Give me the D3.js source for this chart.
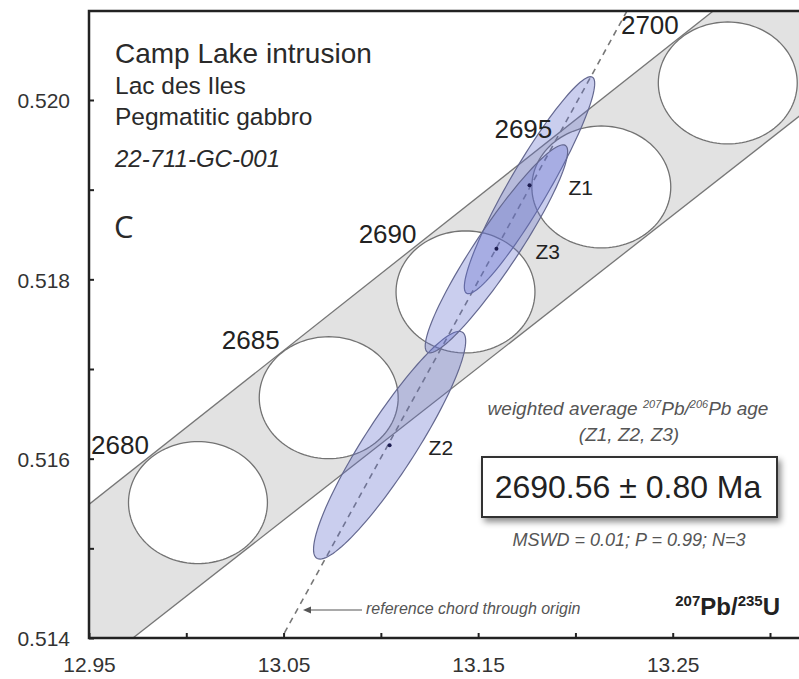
<!DOCTYPE html>
<html>
<head>
<meta charset="utf-8">
<script src="https://cdn.jsdelivr.net/npm/d3@7"></script>
<style>
  body { margin: 0; background: #fff; }
  svg { display: block; font-family: "Liberation Sans", Arial, sans-serif; }
</style>
</head>
<body>
<svg id="chart" width="799" height="679"></svg>
<script>
// axis ticks
var xTicks = [12.95, 13.00, 13.05, 13.10, 13.15, 13.20, 13.25, 13.30];
var xTickLabels = ["12.95", "", "13.05", "", "13.15", "", "13.25", ""];
var yTicks = [0.514, 0.515, 0.516, 0.517, 0.518, 0.519, 0.520];
var yTickLabels = ["0.514", "", "0.516", "", "0.518", "", "0.520"];

// concordia age marks (Ma) with decay constant error ellipses
var concordiaAges = [2680, 2685, 2690, 2695, 2700];
var concordiaX = [13.0060, 13.0732, 13.1435, 13.2133, 13.2783];
var concordiaY = [0.51551, 0.51668, 0.51786, 0.51903, 0.52019];
var concordiaErrX = 0.0357;
var concordiaErrY = 0.00068;

// decay constant uncertainty envelope, two points on each edge
var bandUpper = [[12.95, 0.51549], [13.2724, 0.52102]];
var bandLower = [[12.9726, 0.51400], [13.3145, 0.51981]];

// reference chord through origin (206Pb/238U per 207Pb/235U)
var chordSlope = 0.03939;
var chordX = [13.045, 13.235];

// zircon analyses
var grainNames = ["Z1", "Z2", "Z3"];
var grainX = [13.1764, 13.1045, 13.1594];
var grainXErr = [0.0335, 0.0391, 0.0366];
var grainY = [0.51905, 0.51615, 0.51834];
var grainYErr = [0.00121, 0.00127, 0.00116];
var grainRho = [0.937, 0.915, 0.935];

(function() {

	var pLeft = 89, pTop = 11, pRight = 800, pBottom = 638;

	var svg = d3.select("#chart");

	var x = d3.scaleLinear().domain([12.95, 13.30]).range([pLeft, 770]);
	var y = d3.scaleLinear().domain([0.514, 0.520]).range([pBottom, 100]);

	var defs = svg.append("defs");
	defs.append("clipPath").attr("id", "plot-clip")
		.append("rect")
		.attr("x", pLeft).attr("y", pTop)
		.attr("width", pRight - pLeft).attr("height", pBottom - pTop);

	var shadow = defs.append("filter").attr("id", "shadow")
		.attr("x", "-10%").attr("y", "-20%").attr("width", "130%").attr("height", "160%");
	shadow.append("feDropShadow")
		.attr("dx", 3).attr("dy", 4).attr("stdDeviation", 3)
		.attr("flood-color", "#000").attr("flood-opacity", 0.45);

	var plot = svg.append("g").attr("clip-path", "url(#plot-clip)");

	function extend(l, xv) {
		var s = (l[1][1] - l[0][1]) / (l[1][0] - l[0][0]);
		return [xv, l[0][1] + (xv - l[0][0]) * s];
	}

	// ellipse outline from centre, half extents and correlation
	function ellipsePts(cx, ex, cy, ey, rho) {
		var k = Math.sqrt(1 - rho * rho);
		return d3.range(0, 120).map(function(i) {
			var t = i / 120 * 2 * Math.PI;
			return [cx + ex * Math.cos(t), cy + ey * (rho * Math.cos(t) + k * Math.sin(t))];
		});
	}

	var openLine = d3.line()
		.x(function(d) { return x(d[0]); })
		.y(function(d) { return y(d[1]); });
	var closedLine = d3.line()
		.x(function(d) { return x(d[0]); })
		.y(function(d) { return y(d[1]); })
		.curve(d3.curveLinearClosed);

	// ENVELOPE
	var band = [extend(bandUpper, 12.85), extend(bandUpper, 13.45),
		extend(bandLower, 13.45), extend(bandLower, 12.85)];
	plot.append("path")
		.attr("d", closedLine(band))
		.style("fill", "#e2e2e2").style("stroke", "none");

	[bandUpper, bandLower].forEach(function(l) {
		plot.append("path")
			.attr("d", openLine([extend(l, 12.85), extend(l, 13.45)]))
			.style("fill", "none").style("stroke", "#767676").style("stroke-width", 1.3);
	});

	// CONCORDIA ELLIPSES
	concordiaAges.forEach(function(age, i) {
		plot.append("path")
			.attr("d", closedLine(ellipsePts(concordiaX[i], concordiaErrX, concordiaY[i], concordiaErrY, 0)))
			.style("fill", "#fff").style("stroke", "#737373").style("stroke-width", 1.3);
	});

	// REFERENCE CHORD
	plot.append("path")
		.attr("d", openLine(chordX.map(function(v) { return [v, v * chordSlope]; })))
		.style("fill", "none").style("stroke", "#777")
		.style("stroke-width", 1.6).style("stroke-dasharray", "6,5");

	// ZIRCON ELLIPSES
	grainNames.forEach(function(name, i) {
		plot.append("path")
			.attr("d", closedLine(ellipsePts(grainX[i], grainXErr[i], grainY[i], grainYErr[i], grainRho[i])))
			.style("fill", "#6470cd").style("fill-opacity", 0.34)
			.style("stroke", "#646890").style("stroke-width", 1.2);
	});

	grainNames.forEach(function(name, i) {
		plot.append("circle")
			.attr("cx", x(grainX[i])).attr("cy", y(grainY[i])).attr("r", 2)
			.style("fill", "#1c1c50");
		plot.append("text")
			.attr("x", x(grainX[i]) + 39).attr("y", y(grainY[i]) + 10)
			.style("font-size", "21px").style("fill", "#222")
			.text(name);
	});

	// AGE LABELS
	concordiaAges.forEach(function(age, i) {
		plot.append("text")
			.attr("x", x(concordiaX[i]) - 49).attr("y", y(concordiaY[i]) - 49)
			.attr("text-anchor", "end")
			.style("font-size", "26px").style("fill", "#222")
			.text(age);
	});

	// AXES
	var xAxis = d3.axisBottom(x).tickValues(xTicks).tickSize(-5).tickPadding(19)
		.tickFormat(function(d, i) { return xTickLabels[i]; });
	var yAxis = d3.axisLeft(y).tickValues(yTicks).tickSize(-5).tickPadding(19)
		.tickFormat(function(d, i) { return yTickLabels[i]; });

	var gx = svg.append("g").attr("transform", "translate(0," + pBottom + ")").call(xAxis);
	var gy = svg.append("g").attr("transform", "translate(" + pLeft + ",0)").call(yAxis);
	[gx, gy].forEach(function(g) {
		g.select(".domain").remove();
		g.selectAll(".tick line").style("stroke", "#222").style("stroke-width", 2);
		g.selectAll(".tick text").style("font-size", "21px").style("fill", "#333")
			.style("font-family", "'Liberation Sans', Arial, sans-serif");
	});
	gy.selectAll(".tick text").attr("dy", "0.38em");

	// frame
	svg.append("path")
		.attr("d", "M" + pRight + "," + pTop + "H" + pLeft + "V" + pBottom + "H" + pRight)
		.style("fill", "none").style("stroke", "#222").style("stroke-width", 2.5);

	// TITLE BLOCK
	var title = svg.append("g").style("fill", "#2a2a2a");
	title.append("text").attr("x", 115).attr("y", 63).style("font-size", "28px").text("Camp Lake intrusion");
	title.append("text").attr("x", 115).attr("y", 94).style("font-size", "24.5px").text("Lac des Iles");
	title.append("text").attr("x", 115).attr("y", 125).style("font-size", "24.5px").text("Pegmatitic gabbro");
	title.append("text").attr("x", 115).attr("y", 167).style("font-size", "24px")
		.style("font-style", "italic").text("22-711-GC-001");
	title.append("text").attr("x", 114).attr("y", 238).style("font-size", "31px")
		.style("font-family", "'Open Sans', sans-serif").text("C");

	// WEIGHTED AVERAGE
	var wa = svg.append("g").style("fill", "#555").style("font-style", "italic")
		.attr("text-anchor", "middle");
	var t1 = wa.append("text").attr("x", 628).attr("y", 415).style("font-size", "19px");
	t1.append("tspan").text("weighted average ");
	t1.append("tspan").attr("dy", -7).style("font-size", "11px").text("207");
	t1.append("tspan").attr("dy", 7).text("Pb/");
	t1.append("tspan").attr("dy", -7).style("font-size", "11px").text("206");
	t1.append("tspan").attr("dy", 7).text("Pb age");
	wa.append("text").attr("x", 629).attr("y", 441).style("font-size", "19px").text("(Z1, Z2, Z3)");
	wa.append("text").attr("x", 629).attr("y", 546).style("font-size", "18px")
		.text("MSWD = 0.01; P = 0.99; N=3");

	svg.append("rect")
		.attr("x", 482).attr("y", 457).attr("width", 295).attr("height", 60)
		.style("fill", "#fff").style("stroke", "#333").style("stroke-width", 2)
		.attr("filter", "url(#shadow)");
	svg.append("text").attr("x", 628).attr("y", 498).attr("text-anchor", "middle")
		.style("font-size", "32px").style("fill", "#222")
		.text("2690.56 \u00b1 0.80 Ma");

	// reference chord note
	svg.append("path").attr("d", "M362,610H306")
		.style("stroke", "#555").style("stroke-width", 1.2);
	svg.append("path").attr("d", "M303,610L311,606.5L311,613.5Z").style("fill", "#555");
	svg.append("text").attr("x", 366).attr("y", 614)
		.style("font-size", "16px").style("font-style", "italic").style("fill", "#555")
		.text("reference chord through origin");

	// x axis title
	var xt = svg.append("text").attr("x", 780).attr("y", 615).attr("text-anchor", "end")
		.style("font-weight", "bold").style("fill", "#222").style("font-size", "24px");
	xt.append("tspan").attr("dy", -9).style("font-size", "15px").text("207");
	xt.append("tspan").attr("dy", 9).text("Pb/");
	xt.append("tspan").attr("dy", -9).style("font-size", "15px").text("235");
	xt.append("tspan").attr("dy", 9).text("U");

})();
</script>
</body>
</html>
